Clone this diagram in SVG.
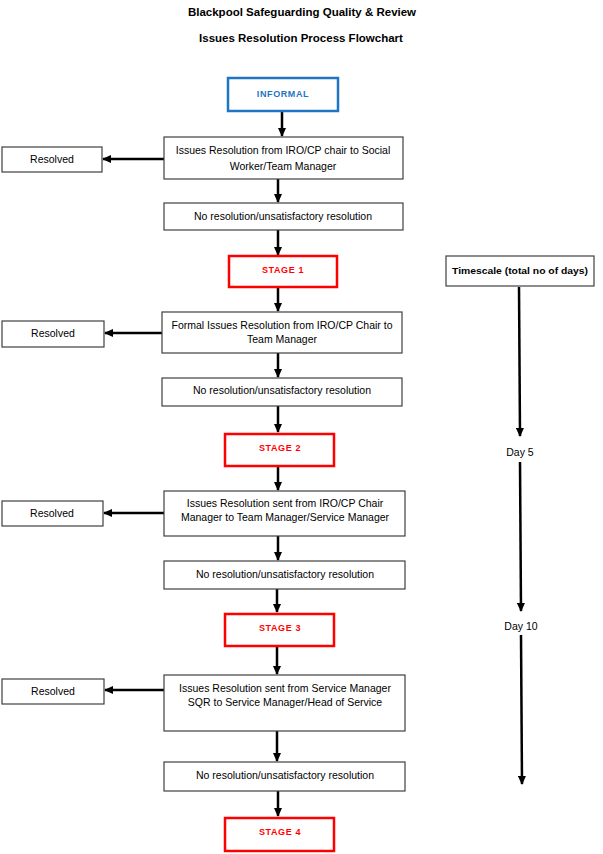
<svg xmlns="http://www.w3.org/2000/svg" width="603" height="854" viewBox="0 0 603 854">
<style>
text{font-family:"Liberation Sans",Arial,sans-serif;fill:#000}
.t{font-size:11.5px;font-weight:bold;text-anchor:middle}
.b{fill:#fff;stroke:#404040;stroke-width:1.2}
.s{fill:#fff;stroke:#ff0000;stroke-width:2.5}
.i{fill:#fff;stroke:#1f74c4;stroke-width:2.5}
.l{font-size:10.5px;text-anchor:middle}
.st{font-size:9px;font-weight:bold;fill:#ff0000;text-anchor:middle;letter-spacing:0.6px}
.in{font-size:9px;font-weight:bold;fill:#1f74c4;text-anchor:middle;letter-spacing:0.6px}
.c{stroke:#000;stroke-width:2.5;fill:none;marker-end:url(#ah)}
</style>
<defs>
<marker id="ah" markerUnits="userSpaceOnUse" markerWidth="9" markerHeight="8" refX="8" refY="4" orient="auto">
<path d="M0,0 L9,4 L0,8 Z" fill="#000"/>
</marker>
</defs>
<rect width="603" height="854" fill="#fff"/>
<text class="t" x="302" y="16">Blackpool Safeguarding Quality &amp; Review</text>
<text class="t" x="301" y="42">Issues Resolution Process Flowchart</text>

<g id="connectors">
<line class="c" x1="282" y1="112" x2="282" y2="136"/>
<line class="c" x1="278" y1="179" x2="278" y2="202"/>
<line class="c" x1="278" y1="230" x2="278" y2="255"/>
<line class="c" x1="278" y1="288" x2="278" y2="311"/>
<line class="c" x1="278" y1="353" x2="278" y2="377"/>
<line class="c" x1="278" y1="406" x2="278" y2="432"/>
<line class="c" x1="278" y1="467" x2="278" y2="490"/>
<line class="c" x1="278" y1="536" x2="278" y2="560"/>
<line class="c" x1="277" y1="589" x2="277" y2="612"/>
<line class="c" x1="277" y1="647" x2="277" y2="674"/>
<line class="c" x1="277" y1="731" x2="277" y2="761"/>
<line class="c" x1="278" y1="791" x2="278" y2="816"/>
<line class="c" x1="164" y1="159" x2="103" y2="159"/>
<line class="c" x1="162" y1="333" x2="105" y2="333"/>
<line class="c" x1="164" y1="513" x2="104" y2="513"/>
<line class="c" x1="164" y1="690" x2="105" y2="690"/>
<line class="c" x1="519" y1="287" x2="520" y2="436"/>
<line class="c" x1="520" y1="462" x2="521" y2="611"/>
<line class="c" x1="521" y1="635" x2="522" y2="784"/>
</g>

<g id="informal"><rect class="i" x="228" y="78" width="110" height="33"/><text class="in" x="283" y="97">INFORMAL</text></g>
<g id="box1"><rect class="b" x="164" y="137" width="239" height="42"/><text class="l" x="283" y="154">Issues Resolution from IRO/CP chair to Social</text><text class="l" x="283" y="170">Worker/Team Manager</text></g>
<g id="resolved1"><rect class="b" x="2" y="147" width="100" height="25"/><text class="l" x="52" y="163">Resolved</text></g>
<g id="nr1"><rect class="b" x="164" y="203" width="239" height="27"/><text class="l" x="283" y="220">No resolution/unsatisfactory resolution</text></g>

<g id="stage1"><rect class="s" x="229" y="256" width="108" height="31"/><text class="st" x="283" y="272.5">STAGE 1</text></g>
<g id="timescale"><rect class="b" x="446" y="256" width="148" height="30"/><text x="520" y="273.5" style="font-size:9.5px;font-weight:bold;text-anchor:middle" textLength="136" lengthAdjust="spacingAndGlyphs">Timescale (total no of days)</text></g>
<g id="box2"><rect class="b" x="162" y="312" width="240" height="41"/><text class="l" x="282" y="329">Formal Issues Resolution from IRO/CP Chair to</text><text class="l" x="282" y="343">Team Manager</text></g>
<g id="resolved2"><rect class="b" x="2" y="321" width="102" height="26"/><text class="l" x="53" y="337">Resolved</text></g>
<g id="nr2"><rect class="b" x="162" y="378" width="240" height="28"/><text class="l" x="282" y="394">No resolution/unsatisfactory resolution</text></g>

<g id="stage2"><rect class="s" x="225" y="434" width="109" height="32"/><text class="st" x="280" y="450.5">STAGE 2</text></g>
<g id="day5"><text class="l" x="520" y="456">Day 5</text></g>
<g id="box3"><rect class="b" x="164" y="491" width="241" height="45"/><text class="l" x="285" y="507">Issues Resolution sent from IRO/CP Chair</text><text class="l" x="285" y="521">Manager to Team Manager/Service Manager</text></g>
<g id="resolved3"><rect class="b" x="2" y="501" width="101" height="25"/><text class="l" x="52" y="516.5">Resolved</text></g>
<g id="nr3"><rect class="b" x="164" y="561" width="241" height="28"/><text class="l" x="285" y="578">No resolution/unsatisfactory resolution</text></g>

<g id="stage3"><rect class="s" x="225" y="614" width="109" height="32"/><text class="st" x="280" y="630.5">STAGE 3</text></g>
<g id="day10"><text class="l" x="521" y="630">Day 10</text></g>
<g id="box4"><rect class="b" x="164" y="675" width="241" height="56"/><text class="l" x="285" y="692">Issues Resolution sent from Service Manager</text><text class="l" x="285" y="706">SQR to Service Manager/Head of Service</text></g>
<g id="resolved4"><rect class="b" x="2" y="679" width="102" height="25"/><text class="l" x="53" y="694.5">Resolved</text></g>
<g id="nr4"><rect class="b" x="164" y="762" width="241" height="29"/><text class="l" x="285" y="779">No resolution/unsatisfactory resolution</text></g>

<g id="stage4"><rect class="s" x="225" y="818" width="109" height="33"/><text class="st" x="280" y="834.5">STAGE 4</text></g>
</svg>
